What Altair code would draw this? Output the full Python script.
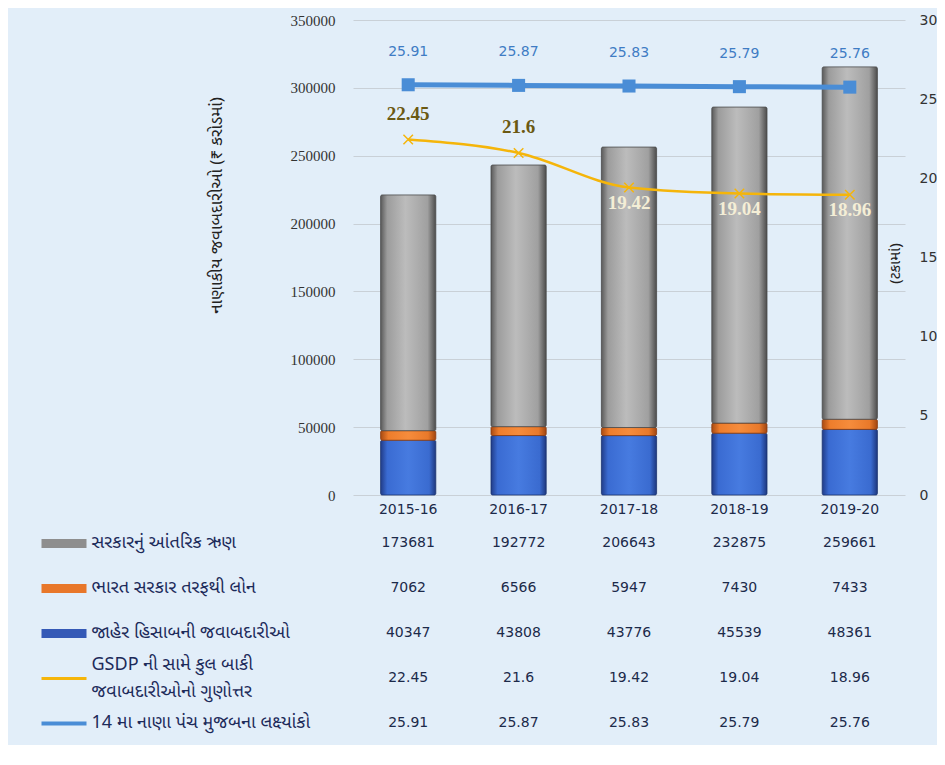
import json
import altair as alt
import pandas as pd

# ---------------- data ----------------
years = ["2015-16", "2016-17", "2017-18", "2018-19", "2019-20"]
internal_debt = [173681, 192772, 206643, 232875, 259661]
goi_loans = [7062, 6566, 5947, 7430, 7433]
public_account = [40347, 43808, 43776, 45539, 48361]
gsdp_ratio = [22.45, 21.6, 19.42, 19.04, 18.96]
fc_target = [25.91, 25.87, 25.83, 25.79, 25.76]

s_internal = "સરકારનું આંતરિક ઋણ"
s_goi = "ભારત સરકાર તરફથી લોન"
s_public = "જાહેર હિસાબની જવાબદારીઓ"
s_gsdp = "GSDP  ની સામે કુલ બાકી જવાબદારીઓનો ગુણોત્તર"
s_fc = "14 મા નાણા પંચ મુજબના લક્ષ્યાંકો"
gsdp_lines = ["GSDP  ની સામે કુલ બાકી", " જવાબદારીઓનો ગુણોત્તર"]

left_title = "નાણાકીય જવાબદારીઓ (₹ કરોડમાં)"
right_title = "(ટકામાં)"

row_names = [s_internal, s_goi, s_public, s_gsdp, s_fc]
row_values = [internal_debt, goi_loans, public_account, gsdp_ratio, fc_target]
stack_order = [s_public, s_goi, s_internal]

# ---------------- tables ----------------
bar_rows = []
for i, y in enumerate(years):
    bar_rows.append({"year": y, "series": s_public, "value": public_account[i]})
    bar_rows.append({"year": y, "series": s_goi, "value": goi_loans[i]})
    bar_rows.append({"year": y, "series": s_internal, "value": internal_debt[i]})
bars_df = pd.DataFrame(bar_rows)

line_df = pd.DataFrame({
    "year": years,
    "gsdp": gsdp_ratio,
    "gsdp_txt": [str(v) for v in gsdp_ratio],
    "fc": fc_target,
    "fc_txt": [f"{v:.2f}" for v in fc_target],
})

table_rows = []
for name, vals in zip(row_names, row_values):
    for y, v in zip(years, vals):
        table_rows.append({"row": name, "year": y, "text": str(v)})
table_df = pd.DataFrame(table_rows)

# ---------------- styling ----------------
PW = 552
PH = 475
SANS = "DejaVu Sans"
GUJ = "Noto Sans Gujarati, Lohit Gujarati, Noto Sans"
NAVY = "#1c2a4a"


def grad(stops):
    return {
        "gradient": "linear", "x1": 0, "x2": 1, "y1": 0, "y2": 0,
        "stops": [{"offset": o, "color": c} for o, c in stops],
    }


gray_fill = grad([(0, "#5a5a5a"), (0.12, "#9c9c9c"), (0.45, "#bcbcbc"), (0.85, "#a0a0a0"), (1, "#4c4c4c")])
orange_fill = grad([(0, "#a84a12"), (0.14, "#ee7d2c"), (0.5, "#f68c3c"), (0.86, "#e9792a"), (1, "#a04510")])
blue_fill = grad([(0, "#213c88"), (0.12, "#3a6bd2"), (0.5, "#477be0"), (0.88, "#3a6bd0"), (1, "#1d377e")])

x_scale = alt.Scale(paddingInner=0.5, paddingOuter=0.25)
x_main = alt.X(
    "year:N", sort=years, scale=x_scale,
    axis=alt.Axis(title=None, labelAngle=0, domain=False, ticks=False, labelPadding=7,
                  labelFont=SANS, labelFontSize=14, labelColor=NAVY),
)

left_axis = alt.Axis(
    title=left_title, values=list(range(0, 350001, 50000)), format="d",
    domain=False, ticks=False, labelPadding=18,
    labelFont="Liberation Serif", labelFontSize=15, labelColor="#333333",
    grid=True, gridColor="#c9d0d7", gridWidth=1,
    titleFont=GUJ, titleFontSize=17, titleFontWeight="normal", titleColor="#222222",
    titleX=-137, titleY=185, titleAngle=270, titleAlign="center", titleBaseline="middle",
)
y_left = alt.Y("v0:Q", scale=alt.Scale(domain=[0, 350000]), axis=left_axis)

base_bar = (
    alt.Chart(bars_df)
    .transform_calculate(order="indexof(" + json.dumps(stack_order, ensure_ascii=False) + ", datum.series)")
    .transform_stack(stack="value", groupby=["year"], as_=["v0", "v1"],
                     sort=[alt.SortField("order", order="ascending")])
)


def bar_layer(series, fill, stroke):
    return (
        base_bar.transform_filter(alt.datum.series == series)
        .mark_bar(fill=fill, stroke=stroke, strokeWidth=0.8, cornerRadius=1.5)
        .encode(x=x_main, y=y_left, y2="v1:Q")
    )


bars = alt.layer(
    bar_layer(s_public, blue_fill, "#1b3370"),
    bar_layer(s_goi, orange_fill, "#8c3a0c"),
    bar_layer(s_internal, gray_fill, "#4a4a4a"),
)

right_axis = alt.Axis(
    title=right_title, orient="right", values=[0, 5, 10, 15, 20, 25, 30],
    domain=False, ticks=False, grid=False, labelPadding=14,
    labelFont=SANS, labelFontSize=14, labelColor="#333333",
    titleFont=GUJ, titleFontSize=15, titleFontWeight="normal", titleColor="#222222",
    titleAngle=270, titleX=-11, titleY=243, titleAlign="center", titleBaseline="middle",
)
r_scale = alt.Scale(domain=[0, 30])


def y_r(field):
    return alt.Y(field, scale=r_scale, axis=right_axis)


lbase = alt.Chart(line_df)
FC_BLUE = "#4a8dd6"
GOLD = "#f5b50a"

fc_line = lbase.mark_line(color=FC_BLUE, strokeWidth=5).encode(x=x_main, y=y_r("fc:Q"))
fc_pts = lbase.mark_point(shape="square", filled=True, size=170, color=FC_BLUE, opacity=1).encode(
    x=x_main, y=y_r("fc:Q"))
fc_txt = lbase.mark_text(dy=-33, font=SANS, fontSize=14, color="#3f7cc4").encode(
    x=x_main, y=y_r("fc:Q"), text="fc_txt:N")

gs_line = lbase.mark_line(color=GOLD, strokeWidth=2.5, interpolate="monotone").encode(
    x=x_main, y=y_r("gsdp:Q"))
gs_pts = lbase.mark_point(shape="M-1,-1L1,1M-1,1L1,-1", filled=False, size=90, strokeWidth=1.5,
                          color=GOLD, opacity=1).encode(x=x_main, y=y_r("gsdp:Q"))
gs_txt_hi = lbase.transform_filter("datum.gsdp > 20").mark_text(
    dy=-26, font="Liberation Serif", fontSize=19, fontWeight="bold", color="#6b5912").encode(
    x=x_main, y=y_r("gsdp:Q"), text="gsdp_txt:N")
gs_txt_lo = lbase.transform_filter("datum.gsdp <= 20").mark_text(
    dy=15, font="Liberation Serif", fontSize=19, fontWeight="bold", color="#f4eed6").encode(
    x=x_main, y=y_r("gsdp:Q"), text="gsdp_txt:N")

lines = alt.layer(gs_line, gs_pts, fc_line, fc_pts, fc_txt, gs_txt_hi, gs_txt_lo)

main = alt.layer(bars, lines).resolve_scale(y="independent").properties(width=PW, height=PH)

# ---------------- data table ----------------
def q(s):
    return json.dumps(s, ensure_ascii=False)


tick_color = {
    "condition": [
        {"test": f"datum.value === {q(s_internal)}", "value": "#8e8e8e"},
        {"test": f"datum.value === {q(s_goi)}", "value": "#e8772a"},
        {"test": f"datum.value === {q(s_public)}", "value": "#3459b6"},
        {"test": f"datum.value === {q(s_gsdp)}", "value": GOLD},
    ],
    "value": FC_BLUE,
}
tick_width = {
    "condition": [
        {"test": f"datum.value === {q(s_internal)}", "value": 9},
        {"test": f"datum.value === {q(s_goi)}", "value": 9},
        {"test": f"datum.value === {q(s_public)}", "value": 9},
        {"test": f"datum.value === {q(s_gsdp)}", "value": 3},
    ],
    "value": 4,
}
label_offset = {
    "condition": {"test": f"datum.value === {q(s_gsdp)}", "value": -13},
    "value": 0,
}

label_expr = (
    f"datum.value === {q(s_gsdp)} ? {json.dumps(gsdp_lines, ensure_ascii=False)} : datum.label"
)

table_axis = alt.Axis(
    title=None, domain=False, offset=267, ticks=True, tickSize=45,
    tickColor=tick_color, tickWidth=tick_width,
    labelAlign="left", labelPadding=-50, labelFont=GUJ, labelFontSize=18,
    labelColor="#1c2a5a", labelLimit=400, labelExpr=label_expr, labelLineHeight=27,
    labelOffset=label_offset, grid=False,
)

table = (
    alt.Chart(table_df)
    .mark_text(font=SANS, fontSize=14, color=NAVY)
    .encode(
        x=alt.X("year:N", sort=years, scale=x_scale, axis=None),
        y=alt.Y("row:N", sort=row_names, scale=alt.Scale(paddingInner=0, paddingOuter=0), axis=table_axis),
        text="text:N",
    )
    .properties(width=PW, height=225)
)

chart = (
    alt.vconcat(main, table, spacing=4)
    .properties(padding={"left": 28, "top": 5, "right": 0, "bottom": 0}, background="#e2eef9")
    .configure_view(stroke=None)
)

chart.save("out.html", embed_options={"renderer": "svg", "actions": False})
